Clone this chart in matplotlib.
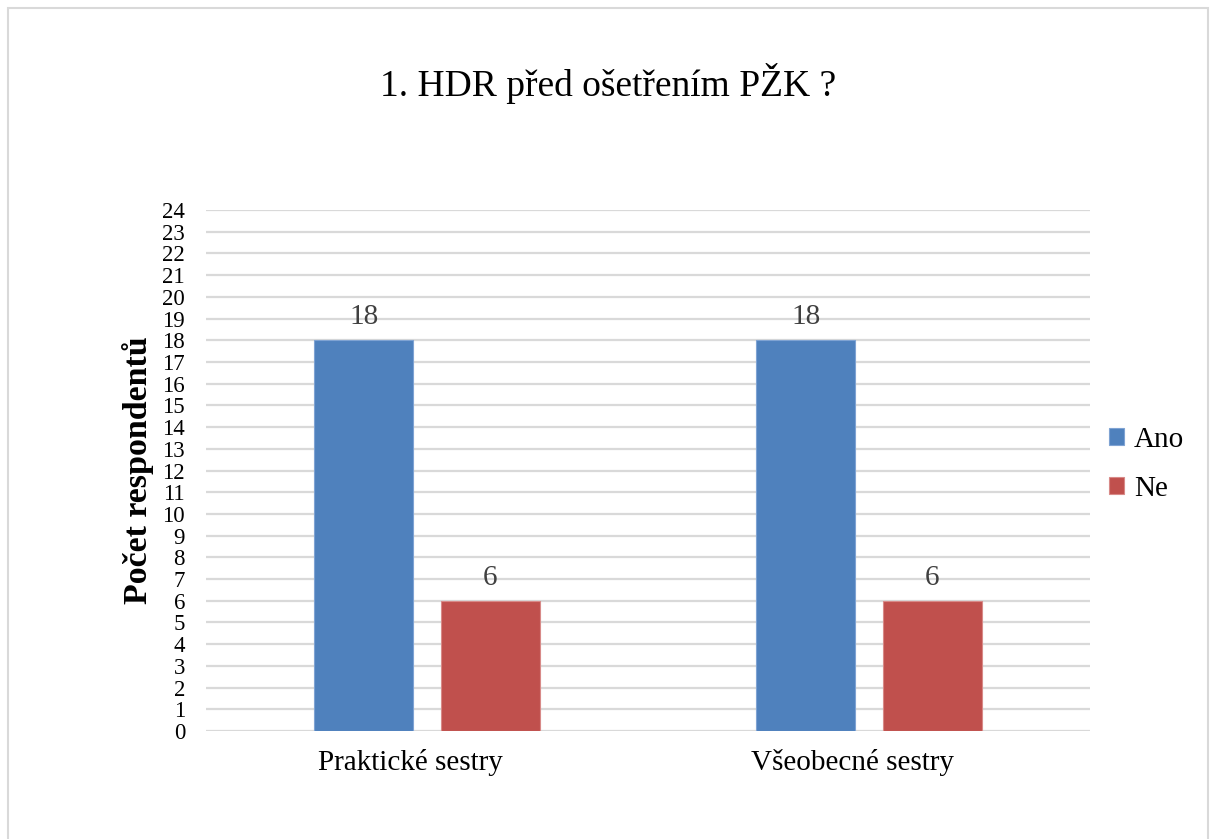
import matplotlib
matplotlib.use("Agg")
import matplotlib.pyplot as plt
import matplotlib.transforms as mtransforms
import numpy as np
from matplotlib.patches import Rectangle

plt.rcParams.update({
    "font.family": ["Liberation Serif", "DejaVu Serif"],
    "figure.dpi": 100,
})

TITLE = "1. HDR před ošetřením PŽK ?"
CATEGORIES = ["Praktické sestry", "Všeobecné sestry"]
SERIES = ["Ano", "Ne"]
ANO = [18, 18]
NE = [6, 6]
COLORS = {"Ano": "#4F81BD", "Ne": "#C0504D"}
EDGES = {"Ano": "#7FA3D3", "Ne": "#D88A88"}
YTICKS = list(range(0, 25))

fig = plt.figure(figsize=(12.11, 8.39))
ax = fig.add_axes((0.170, 0.1287, 0.730, 0.621))

x = np.arange(len(CATEGORIES))
width = 0.224
offsets = {"Ano": -0.1425, "Ne": 0.1435}
for name, vals in zip(SERIES, [ANO, NE]):
    bars = ax.bar(x + offsets[name], vals, width, color=COLORS[name],
                  edgecolor=EDGES[name], linewidth=0.8, label=name, zorder=3)
    for b, v in zip(bars, vals):
        ax.text(b.get_x() + b.get_width() / 2, v + 0.45, str(v), ha="center",
                va="bottom", fontsize=21, color="#404040")

ax.set_xlim(-0.5, 1.5)
ax.set_ylim(0, 24)
ax.set_yticks(YTICKS)
ax.set_yticklabels([str(t) for t in YTICKS], fontsize=16.5)
ax.set_xticks(x)
ax.set_xticklabels(CATEGORIES, fontsize=21)
ax.tick_params(axis="y", length=0, pad=15)
ax.tick_params(axis="x", length=0, pad=13)
# category labels sit a little left of the bar groups in the original
shift = mtransforms.ScaledTranslation(-16 / 100, 0, fig.dpi_scale_trans)
for lbl in ax.get_xticklabels():
    lbl.set_transform(lbl.get_transform() + shift)
ax.yaxis.grid(True, color="#D9D9D9", lw=1.6, zorder=0)
for s in ax.spines.values():
    s.set_visible(False)
ax.set_ylabel("Počet respondentů", fontsize=24.5, fontweight="bold", labelpad=6)

fig.suptitle(TITLE, x=0.502, y=0.925, fontsize=27)

leg = ax.legend(loc="center left", bbox_to_anchor=(1.022, 0.512), frameon=False,
                fontsize=21, handlelength=0.5, handleheight=0.5,
                handletextpad=0.35, labelspacing=0.78, borderpad=0, borderaxespad=0)

fig.patches.append(Rectangle((8 / 1211, -0.01), 1200 / 1211, 1 - 8 / 839 + 0.01,
                             transform=fig.transFigure, fill=False,
                             edgecolor="#D9D9D9", lw=1.5))

fig.savefig("out.png", dpi=100)
